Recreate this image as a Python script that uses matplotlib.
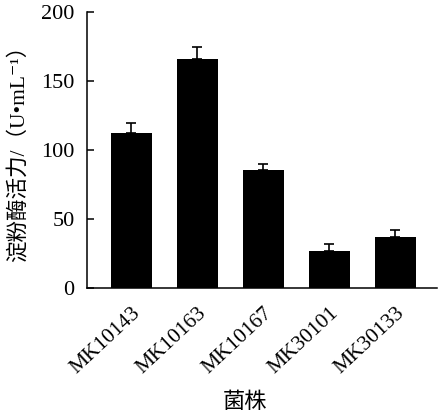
import matplotlib
matplotlib.use('Agg')
import matplotlib.pyplot as plt

strains = ['MK10143', 'MK10163', 'MK10167', 'MK30101', 'MK30133']
activity = [112.5, 165.7, 85.7, 27.0, 37.2]
errors = [7.1, 9.2, 4.2, 5.1, 4.6]
yticks = [0, 50, 100, 150, 200]

fonts = ['Liberation Serif', 'DejaVu Serif', 'Noto Sans CJK SC']
plt.rcParams['font.family'] = fonts
plt.rcParams['font.size'] = 16

fig = plt.figure(figsize=(4.43, 4.13), dpi=100)
ax = fig.add_axes([87/443, 125/413, 350/443, 276/413])

x = range(len(strains))
ax.bar(x, activity, width=0.62, color='black')
ax.errorbar(x, activity, yerr=[[0]*len(errors), errors], fmt='none',
            ecolor='black', elinewidth=1.2, capsize=3.5, capthick=1.2)

ax.set_xlim(-0.67, 4.63)
ax.set_ylim(0, 200)
ax.set_yticks(yticks)
ax.set_xticks(list(x))
ax.set_xticklabels(strains, rotation=43, ha='right', rotation_mode='anchor',
                   fontsize=15.5)

for s in ['top', 'right']:
    ax.spines[s].set_visible(False)
for s in ['left', 'bottom']:
    ax.spines[s].set_linewidth(1.1)
ax.tick_params(axis='y', direction='in', length=5, width=1.1, pad=9)
ax.tick_params(axis='x', length=0, pad=11)

fig.text(18/443, 1 - 148/413, '淀粉酶活力/（U•mL⁻¹）', rotation=90,
         ha='center', va='center', fontsize=15.5)
fig.text(245/443, 1 - 403/413, '菌株', ha='center', va='center', fontsize=16)

fig.savefig('out.png', dpi=100)
